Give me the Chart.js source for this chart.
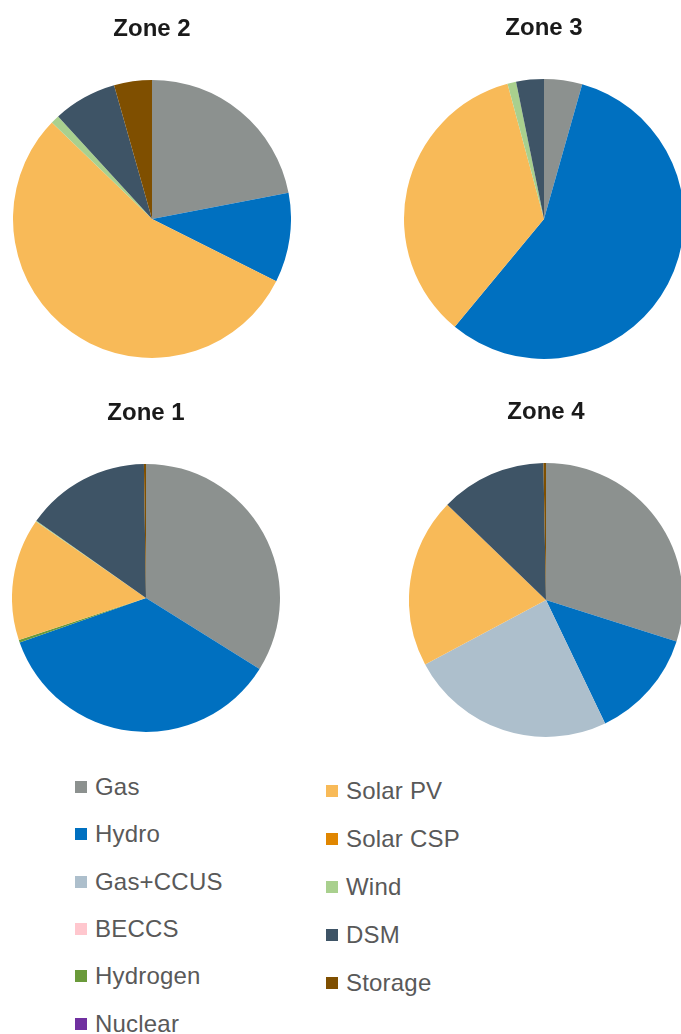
<!DOCTYPE html>
<html>
<head>
<meta charset="utf-8">
<script src="https://cdn.jsdelivr.net/npm/chart.js@4/dist/chart.umd.min.js"></script>
<style>
  html, body { margin: 0; padding: 0; background: #ffffff; overflow: hidden; }
  body { width: 681px; height: 1034px; position: relative; font-family: "Liberation Sans", Arial, sans-serif; }
  canvas.pie { position: absolute; }
  .legend-item { position: absolute; display: flex; align-items: center; height: 30px; color: #595959; font-size: 24px; letter-spacing: 0.2px; white-space: nowrap; }
  .legend-item .sw { width: 12px; height: 12px; margin-right: 8px; flex: none; }
</style>
</head>
<body>
<canvas id="z2" class="pie"></canvas>
<canvas id="z3" class="pie"></canvas>
<canvas id="z1" class="pie"></canvas>
<canvas id="z4" class="pie"></canvas>
<div id="legend"></div>
<script>
// Technologies, in drawing order (clockwise from 12 o'clock)
const categories = ['Gas', 'Hydro', 'Gas+CCUS', 'BECCS', 'Hydrogen', 'Nuclear',
                    'Solar PV', 'Solar CSP', 'Wind', 'DSM', 'Storage'];

// Share of each technology per zone (%)
const zone1 = [33.9, 35.7, 0, 0, 0.3, 0, 14.75, 0, 0.1, 15.0, 0.25];
const zone2 = [22.0, 10.4, 0, 0, 0, 0, 54.8, 0, 1.0, 7.4, 4.4];
const zone3 = [4.4, 56.6, 0, 0, 0, 0, 34.8, 0, 1.0, 3.2, 0];
const zone4 = [29.9, 13.0, 24.3, 0, 0, 0, 20.0, 0, 0, 12.5, 0.3];

const colors = ['#8C918F', '#0070C0', '#ADBFCC', '#FFC7CE', '#6A9A3A', '#7030A0',
                '#F8BA58', '#E08600', '#A9D08E', '#3E5466', '#7F4F00'];

// Layout of the four pies: centre and radius
const TITLE_FONT = 24, TITLE_GAP = 36;
const TITLE_H = TITLE_FONT * 1.2 + TITLE_GAP;
const pies = [
  { id: 'z2', title: 'Zone 2', data: zone2, cx: 152, cy: 219, r: 139 },
  { id: 'z3', title: 'Zone 3', data: zone3, cx: 544, cy: 219, r: 140 },
  { id: 'z1', title: 'Zone 1', data: zone1, cx: 146, cy: 598, r: 134 },
  { id: 'z4', title: 'Zone 4', data: zone4, cx: 546, cy: 600, r: 137 }
];

pies.forEach(p => {
  const cv = document.getElementById(p.id);
  const w = p.r * 2, h = Math.round(TITLE_H + p.r * 2);
  cv.width = w; cv.height = h;
  cv.style.width = w + 'px'; cv.style.height = h + 'px';
  cv.style.left = (p.cx - p.r) + 'px';
  cv.style.top = Math.round(p.cy - p.r - TITLE_H) + 'px';
  new Chart(cv, {
    type: 'pie',
    data: {
      labels: categories,
      datasets: [{
        data: p.data,
        backgroundColor: colors,
        borderWidth: 0,
        offset: 0,
        hoverOffset: 0
      }]
    },
    options: {
      responsive: false,
      animation: false,
      layout: { padding: 0 },
      plugins: {
        legend: { display: false },
        tooltip: { enabled: false },
        title: {
          display: true,
          text: p.title,
          color: '#1a1a1a',
          font: { family: '"Liberation Sans", Arial, sans-serif', size: TITLE_FONT, weight: 'bold' },
          padding: { top: 0, bottom: TITLE_GAP }
        }
      }
    }
  });
});

// Two-column legend built from the category list
const legendCols = [
  { items: [0, 1, 2, 3, 4, 5], left: 75, top: 772, step: 47.3 },
  { items: [6, 7, 8, 9, 10], left: 326, top: 776, step: 48 }
];
const legend = document.getElementById('legend');
legendCols.forEach(col => {
  col.items.forEach((idx, row) => {
    const item = document.createElement('div');
    item.className = 'legend-item';
    item.style.left = col.left + 'px';
    item.style.top = (col.top + row * col.step) + 'px';
    const sw = document.createElement('span');
    sw.className = 'sw';
    sw.style.background = colors[idx];
    const txt = document.createElement('span');
    txt.textContent = categories[idx];
    item.appendChild(sw);
    item.appendChild(txt);
    legend.appendChild(item);
  });
});
</script>
</body>
</html>
